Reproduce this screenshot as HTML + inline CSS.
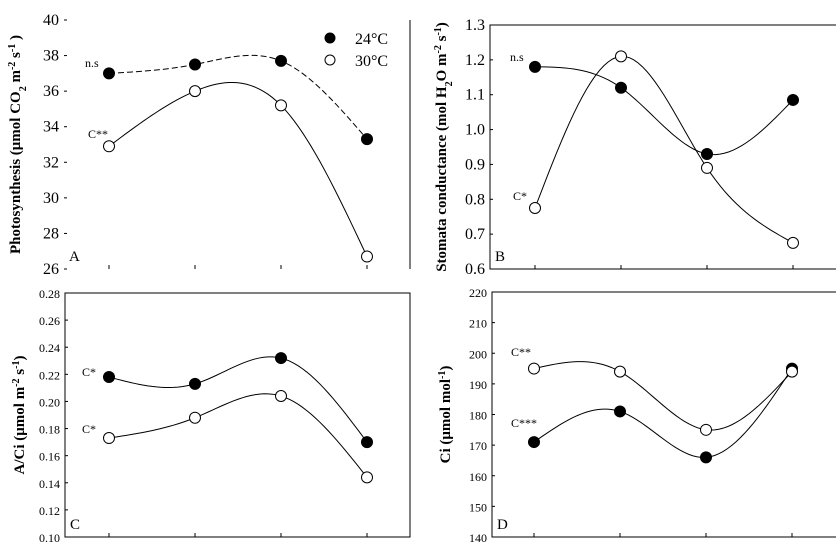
<!DOCTYPE html>
<html><head><meta charset="utf-8"><style>
html,body{margin:0;padding:0;background:#fff}
svg{display:block;font-family:"Liberation Serif",serif}
</style></head><body>
<svg id="c" width="836" height="545" viewBox="0 0 836 545"></svg>
<script>
const xPos=[0,1,2,3];
const aHot=[37.0,37.5,37.7,33.3], aWarm=[32.9,36.0,35.2,26.7];
const bHot=[1.18,1.12,0.93,1.085], bWarm=[0.775,1.21,0.89,0.675];
const cHot=[0.218,0.213,0.232,0.170], cWarm=[0.173,0.188,0.204,0.144];
const dHot=[171,181,166,195], dWarm=[195,194,175,194];
const aTicks=[26,28,30,32,34,36,38,40], bTicks=[0.6,0.7,0.8,0.9,1.0,1.1,1.2,1.3];
const cTicks=[0.10,0.12,0.14,0.16,0.18,0.20,0.22,0.24,0.26,0.28], dTicks=[140,150,160,170,180,190,200,210,220];
const NS='http://www.w3.org/2000/svg', svg=document.getElementById('c');
function mk(t,a,p){const e=document.createElementNS(NS,t);for(const k in a)e.setAttribute(k,a[k]);(p||svg).appendChild(e);return e;}
function spline(P){
 const n=P.length, M=new Array(n).fill(0);
 const ys=P.map(p=>p[1]);
 const r1=6*(ys[2]-2*ys[1]+ys[0]), r2=6*(ys[3]-2*ys[2]+ys[1]);
 M[1]=(4*r1-r2)/15; M[2]=(4*r2-r1)/15;
 let s='';
 for(let i=0;i<n-1;i++){for(let k=0;k<=20;k++){const t=k/20;
  const yv=(1-t)*ys[i]+t*ys[i+1]+((1-t)**3-(1-t))*M[i]/6+(t**3-t)*M[i+1]/6;
  const xv=P[i][0]+(P[i+1][0]-P[i][0])*t;
  s+=(s?' L':'M')+xv.toFixed(2)+','+yv.toFixed(2);}}
 return s;
}
function panel(o){
 const g=mk('g',{});
 
 
 const y=v=>o.y1+(o.y0-o.y1)*(v-o.t[0])/(o.t[o.t.length-1]-o.t[0]);
 const x=i=>o.px[0]+(o.px[1]-o.px[0])*i;
 if(o.box){const r=mk('rect',{x:o.bx0,y:o.y0,width:o.bx1-o.bx0,height:o.y1-o.y0,fill:'none',stroke:'#000','stroke-width':1},g);}
 else{const l=mk('line',{x1:o.bx1,x2:o.bx1,y1:o.y0,y2:o.y1,stroke:'#000'},g);}
 o.t.forEach(v=>{const ty=y(v);
  const tl=mk('line',{x1:o.bx0,x2:o.bx0+3,y1:ty,y2:ty,stroke:'#000'},g);
  const tx=mk('text',{x:o.bx0-5,y:ty+5,'text-anchor':'end','font-size':o.fs},g);tx.textContent=o.fmt(v);});
 xPos.forEach(i=>{const l=mk('line',{x1:x(i),x2:x(i),y1:o.y1,y2:o.y1-4,stroke:'#000'},g);});
 [[o.hot,true],[o.warm,false]].forEach(([d,f])=>{
  const P=d.map((v,i)=>[x(i),y(v)]);
  const pa=mk('path',{d:spline(P),fill:'none',stroke:'#000','stroke-width':o.sw||1,'stroke-dasharray':(o.dash&&f)?'6,3':'none'},g);
  
  P.forEach(p=>{const c=mk('circle',{cx:p[0],cy:p[1],r:5.5,fill:f?'#000':'#fff',stroke:'#000','stroke-width':1},g);
   });
 });
 const tt=mk('text',{transform:`translate(${o.tx},${(o.y0+o.y1)/2}) rotate(-90)`,'text-anchor':'middle','font-size':15,'font-weight':'bold'},g);
 tt.innerHTML=o.title;
 const pl=mk('text',{x:o.bx0+5,y:o.y1-8,'font-size':15},g);pl.textContent=o.label;
 o.notes.forEach(n=>{const t=mk('text',{x:n[0],y:n[1],'font-size':12},g);t.textContent=n[2];});
}
panel({name:'panel-a-photosynthesis',t:aTicks,y0:20,y1:269,bx0:64,bx1:410,px:[109,195],hot:aHot,warm:aWarm,box:false,dash:true,fs:16,fmt:v=>v,tx:20,label:'A',
 title:'Photosynthesis (μmol CO<tspan baseline-shift="sub" font-size="10">2</tspan> m<tspan baseline-shift="super" font-size="10">-2</tspan> s<tspan baseline-shift="super" font-size="10">-1</tspan> )',notes:[[85,67,'n.s'],[88,138,'C**']]});
panel({name:'panel-b-conductance',t:bTicks,y0:25,y1:269,bx0:490,bx1:840,px:[535,621],hot:bHot,warm:bWarm,box:true,fs:16,fmt:v=>v.toFixed(1),tx:446,label:'B',
 title:'Stomata conductance (mol H<tspan baseline-shift="sub" font-size="10">2</tspan>O m<tspan baseline-shift="super" font-size="10">-2</tspan> s<tspan baseline-shift="super" font-size="10">-1</tspan>)',notes:[[510,61,'n.s'],[513,200,'C*']]});
panel({name:'panel-c-a-ci',t:cTicks,y0:293,y1:537,bx0:65,bx1:410,px:[109,195],hot:cHot,warm:cWarm,box:true,fs:12,fmt:v=>v.toFixed(2),tx:24,label:'C',
 title:'A/Ci (μmol m<tspan baseline-shift="super" font-size="10">-2</tspan> s<tspan baseline-shift="super" font-size="10">-1</tspan>)',notes:[[82,376,'C*'],[82,433,'C*']]});
panel({name:'panel-d-ci',t:dTicks,y0:292,y1:537,bx0:492,bx1:840,px:[534,620]  ,hot:dHot,warm:dWarm,box:true,fs:12,fmt:v=>v,tx:450,label:'D',
 title:'Ci (μmol mol<tspan baseline-shift="super" font-size="10">-1</tspan>)',notes:[[511,356,'C**'],[511,427,'C***']]});
const lg=mk('g',{});


[[38,'#000','24°C'],[60,'#fff','30°C']].forEach(r=>{
 const c=mk('circle',{cx:330,cy:r[0],r:5,fill:r[1],stroke:'#000'},lg);
 const t=mk('text',{x:355,y:r[0]+6,'font-size':16},lg);t.textContent=r[2];});
</script>
</body></html>
